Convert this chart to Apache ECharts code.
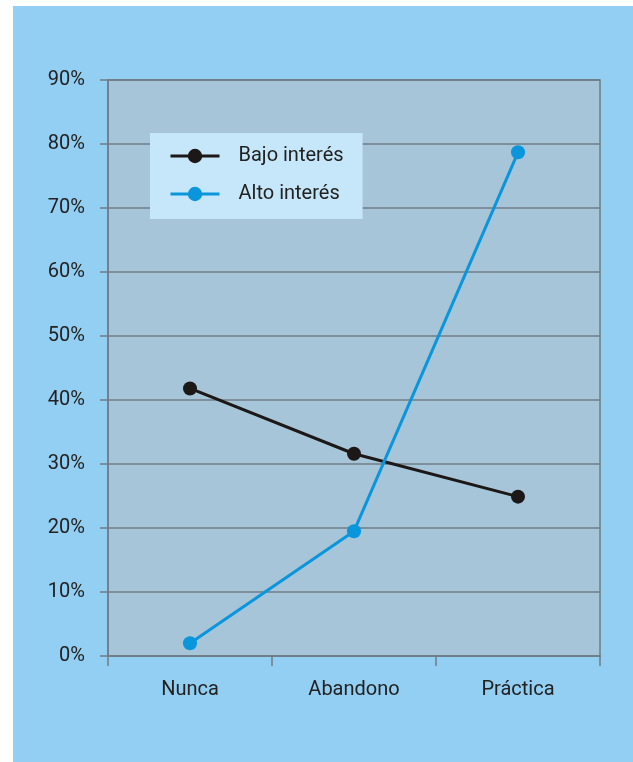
<!DOCTYPE html>
<html>
<head>
<meta charset="utf-8">
<script src="https://cdn.jsdelivr.net/npm/echarts@6/dist/echarts.min.js"></script>
<style>
  html, body { margin: 0; padding: 0; background: #fff; }
  #chart { width: 633px; height: 762px; }
</style>
</head>
<body>
<div id="chart"></div>
<script type="text/javascript">
// datos
var categorias = ['Nunca', 'Abandono', 'Práctica'];
var bajoInteres = [41.8, 31.6, 24.9];
var altoInteres = [2.0, 19.5, 78.7];

var myChart = echarts.init(document.getElementById('chart'));
var gris = '#6f7d86';
var texto = '#222222';

option = {
    backgroundColor: '#ffffff',
    textStyle: { fontFamily: 'Roboto' },
    graphic: [
        {
            type: 'rect',
            z: -10,
            shape: { x: 13, y: 6, width: 620, height: 756 },
            style: { fill: '#93cff3' }
        }
    ],
    grid: {
        left: 108,
        right: 33,
        top: 80,
        bottom: 106,
        show: true,
        backgroundColor: '#a6c5d8',
        borderColor: gris,
        borderWidth: 1.5
    },
    legend: {
        orient: 'vertical',
        left: 150,
        top: 133,
        backgroundColor: '#c6e7f9',
        padding: [13, 19, 15, 19],
        itemWidth: 49,
        itemHeight: 18,
        itemGap: 18,
        lineStyle: { width: 3 },
        textStyle: { fontSize: 20, color: texto, padding: [0, 0, 0, 14] },
        data: ['Bajo interés', 'Alto interés']
    },
    xAxis: [
        {
            type: 'category',
            data: categorias,
            boundaryGap: true,
            axisLine: { lineStyle: { color: gris, width: 1.5 } },
            axisTick: { show: true, length: 10, interval: 0, lineStyle: { color: gris, width: 1.5 } },
            axisLabel: { fontSize: 20, color: texto, margin: 24, interval: 0 }
        }
    ],
    yAxis: [
        {
            type: 'value',
            min: 0,
            max: 90,
            interval: 10,
            axisLine: { show: true, lineStyle: { color: gris, width: 1.5 } },
            axisTick: { show: true, length: 8, lineStyle: { color: gris, width: 1.5 } },
            axisLabel: { formatter: '{value}%', fontSize: 20, color: texto, margin: 23 },
            splitLine: { show: true, lineStyle: { color: gris, width: 1.5 } }
        }
    ],
    series: [
        {
            name: 'Bajo interés',
            type: 'line',
            data: bajoInteres,
            symbol: 'circle',
            symbolSize: 14,
            color: '#1c1818',
            lineStyle: { width: 3, color: '#1c1818' },
            itemStyle: { color: '#1c1818' }
        },
        {
            name: 'Alto interés',
            type: 'line',
            data: altoInteres,
            symbol: 'circle',
            symbolSize: 14,
            color: '#0a96dd',
            lineStyle: { width: 3, color: '#0a96dd' },
            itemStyle: { color: '#0a96dd' }
        }
    ]
};

myChart.setOption(option);
</script>
</body>
</html>
